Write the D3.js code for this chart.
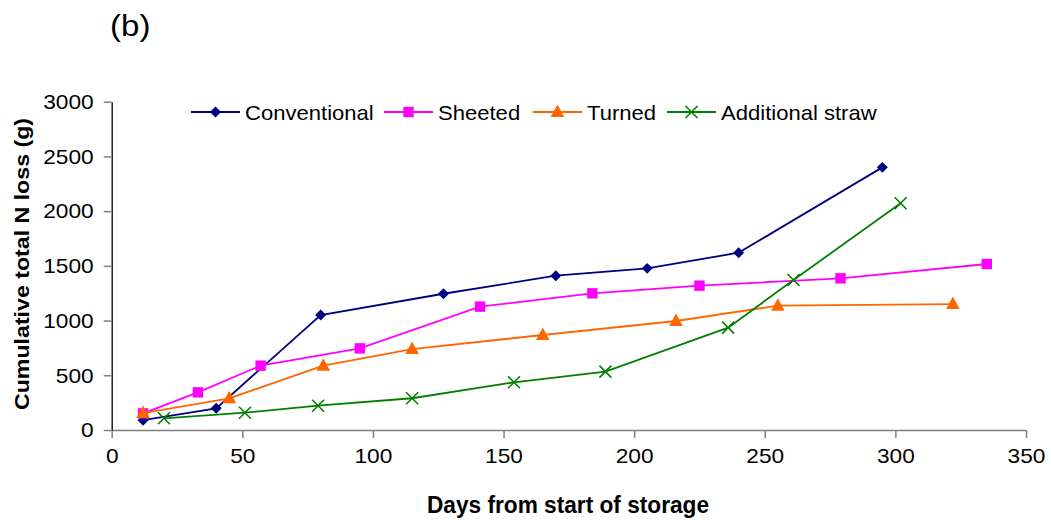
<!DOCTYPE html>
<html><head><meta charset="utf-8">
<script src="https://cdn.jsdelivr.net/npm/d3@7"></script>
<style>body{margin:0;background:#fff;}</style>
</head><body><svg id="c" width="1051" height="520" font-family="Liberation Sans, Arial, sans-serif"></svg>
<script>
const seriesNames = ["Conventional","Sheeted","Turned","Additional straw"];
const seriesColors = ["#000080","#FF00FF","#FF6600","#008000"];
const seriesSymbols = ["diamond","square","triangle","cross"];
const conventionalX = [12,40,80,127,170,205,240,295];
const conventionalY = [90,198,1050,1245,1410,1477,1620,2400];
const sheetedX = [12,33,57,95,141,184,225,279,335];
const sheetedY = [152,344,588,746,1127,1249,1319,1386,1517];
const turnedX = [12,45,81,115,165,216,255,322];
const turnedY = [155,290,588,740,868,996,1136,1151];
const strawX = [20,51,79,115,154,189,236,261,302];
const strawY = [107,158,222,290,436,533,935,1371,2072];
const xTicks = [0,50,100,150,200,250,300,350];
const yTicks = [0,500,1000,1500,2000,2500,3000];

const allX = [conventionalX, sheetedX, turnedX, strawX];
const allY = [conventionalY, sheetedY, turnedY, strawY];

const svg = d3.select("#c");
const x = d3.scaleLinear().domain([0,350]).range([111.7,1026]);
const y = d3.scaleLinear().domain([0,3000]).range([430,101.7]);

function stretch(sel, k){
  sel.each(function(){
    const w = this.getComputedTextLength();
    d3.select(this).attr("textLength", w*k).attr("lengthAdjust","spacingAndGlyphs");
  });
}

const title = svg.append("text").attr("x",110).attr("y",35.5).attr("font-size",29).text("(b)");
stretch(title, 1.14);

const xa = svg.append("g").attr("transform","translate(0,430)")
  .call(d3.axisBottom(x).tickValues(xTicks).tickFormat(d3.format("d")).tickSize(8).tickPadding(10).tickSizeOuter(0));
xa.select(".domain").attr("stroke","#808080").attr("stroke-width",1.5);
xa.selectAll(".tick line").attr("stroke","#808080").attr("stroke-width",1.5);
xa.selectAll("text").attr("font-size",21).attr("fill","#000").attr("font-family","Liberation Sans, Arial");
stretch(xa.selectAll("text"), 1.08);

const ya = svg.append("g").attr("transform","translate(111.7,0)")
  .call(d3.axisLeft(y).tickValues(yTicks).tickFormat(d3.format("d")).tickSize(8).tickPadding(10).tickSizeOuter(0));
ya.select(".domain").attr("stroke","#000").attr("stroke-width",1.3);
ya.selectAll(".tick line").attr("stroke","#808080").attr("stroke-width",1.5);
ya.selectAll("text").attr("font-size",21).attr("fill","#000").attr("font-family","Liberation Sans, Arial");
stretch(ya.selectAll("text"), 1.08);

const xt = svg.append("text").attr("x",568).attr("y",513).attr("text-anchor","middle")
  .attr("font-size",23).attr("font-weight","bold").text("Days from start of storage");
xt.attr("textLength",282).attr("lengthAdjust","spacingAndGlyphs");
const yt = svg.append("text").attr("transform","translate(29,264) rotate(-90)").attr("text-anchor","middle")
  .attr("font-size",21).attr("font-weight","bold").text("Cumulative total N loss (g)");
yt.attr("textLength",292).attr("lengthAdjust","spacingAndGlyphs");

function drawMarker(g, sym, cx, cy, color){
  if(sym==="diamond"){
    g.append("path").attr("d",d3.symbol().type(d3.symbolSquare).size(60)())
      .attr("transform",`translate(${cx},${cy}) rotate(45)`).attr("fill",color);
  } else if(sym==="square"){
    g.append("rect").attr("x",cx-5.2).attr("y",cy-5.2).attr("width",10.4).attr("height",10.4).attr("fill",color);
  } else if(sym==="triangle"){
    g.append("path").attr("d",`M${cx},${cy-7.5}L${cx+6.8},${cy+5}L${cx-6.8},${cy+5}Z`).attr("fill",color);
  } else {
    g.append("path").attr("d",`M${cx-6},${cy-6}L${cx+6},${cy+6}M${cx-6},${cy+6}L${cx+6},${cy-6}`)
      .attr("stroke",color).attr("stroke-width",1.6).attr("fill","none");
  }
}

const line = d3.line().x(d=>x(d[0])).y(d=>y(d[1]));
seriesNames.forEach((name,i)=>{
  const pts = allX[i].map((v,j)=>[v, allY[i][j]]);
  const g = svg.append("g");
  g.append("path").datum(pts).attr("d",line).attr("fill","none")
    .attr("stroke",seriesColors[i]).attr("stroke-width",1.8);
  pts.forEach(p=>drawMarker(g, seriesSymbols[i], x(p[0]), y(p[1]), seriesColors[i]));
});

const legX = [191,384,533,667];
const legY = 112;
seriesNames.forEach((name,i)=>{
  const g = svg.append("g");
  g.append("line").attr("x1",legX[i]).attr("x2",legX[i]+49).attr("y1",legY).attr("y2",legY)
    .attr("stroke",seriesColors[i]).attr("stroke-width",1.8);
  drawMarker(g, seriesSymbols[i], legX[i]+24.5, legY, seriesColors[i]);
  const t = g.append("text").attr("x",legX[i]+54).attr("y",legY+7.5).attr("font-size",21).text(name);
  stretch(t, 1.05);
});
</script></body></html>
